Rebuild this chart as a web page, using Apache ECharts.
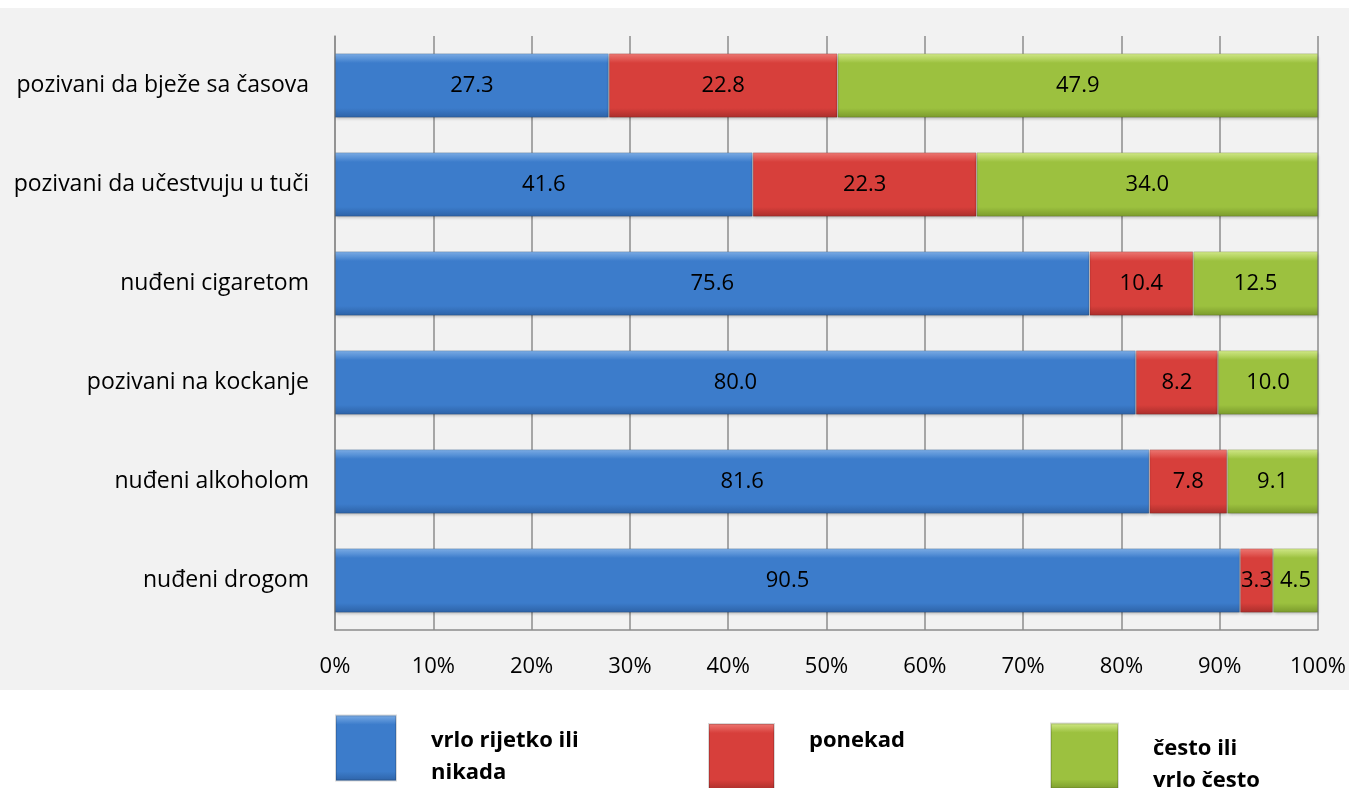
<!DOCTYPE html>
<html>
<head>
<meta charset="utf-8">
<script src="https://cdn.jsdelivr.net/npm/echarts@6/dist/echarts.min.js"></script>
<style>
  html, body { margin: 0; padding: 0; background: #fff; }
  #main { width: 1349px; height: 788px; }
</style>
</head>
<body>
<div id="main"></div>
<script>
// kategorije, odozgo prema dolje
const categories = [
  'pozivani da bježe sa časova',
  'pozivani da učestvuju u tuči',
  'nuđeni cigaretom',
  'pozivani na kockanje',
  'nuđeni alkoholom',
  'nuđeni drogom'
];
const seriesNames = ['vrlo rijetko ili\nnikada', 'ponekad', 'često ili\nvrlo često'];
const rarely = [27.3, 41.6, 75.6, 80.0, 81.6, 90.5];
const sometimes = [22.8, 22.3, 10.4, 8.2, 7.8, 3.3];
const often = [47.9, 34.0, 12.5, 10.0, 9.1, 4.5];
const xTicks = ['0%', '10%', '20%', '30%', '40%', '50%', '60%', '70%', '80%', '90%', '100%'];

const FONT = '"Open Sans", Lato, sans-serif';

// 100% stacked: udio svake vrijednosti u zbiru reda
const totals = rarely.map((v, i) => v + sometimes[i] + often[i]);
function toShare(arr) {
  return arr.map((v, i) => ({ value: v / totals[i] * 100, raw: v }));
}

function grad(top, mid, bottom) {
  return new echarts.graphic.LinearGradient(0, 0, 0, 1, [
    { offset: 0, color: top },
    { offset: 0.15, color: mid },
    { offset: 0.85, color: mid },
    { offset: 1, color: bottom }
  ]);
}

const colors = [
  grad('#7fb0e8', '#3c7ccb', '#2d62a6'),
  grad('#f07b76', '#d73f3b', '#aa2e2b'),
  grad('#d5ec8c', '#9cc13f', '#7a9a2c')
];

function makeSeries(name, arr, idx) {
  return {
    name: name,
    type: 'bar',
    stack: 'total',
    barWidth: '65%',
    data: toShare(arr),
    itemStyle: {
      color: colors[idx],
      borderColor: 'rgba(0,0,0,0.15)',
      borderWidth: 1,
      shadowColor: 'rgba(0,0,0,0.25)',
      shadowBlur: 3,
      shadowOffsetY: 2
    },
    label: {
      show: true,
      position: 'inside',
      color: '#000',
      fontFamily: FONT,
      fontSize: 22,
      formatter: p => p.data.raw.toFixed(1)
    },
    emphasis: { disabled: true }
  };
}

const chart = echarts.init(document.getElementById('main'), null, { renderer: 'canvas' });

// legenda: tri zasebna bloka
const legendLefts = [335, 708, 1050];
const legendTops = [711, 723, 719];
const legendIconW = [60, 65, 67];
// razmak (prazan red) iznad ili ispod teksta, da tekst sjedne kao u originalu
const legendFmt = [
  n => '{s| }\n' + n.split('\n').map(t => '{b|' + t + '}').join('\n'),
  n => '{b|' + n + '}\n{t| }',
  n => '{s| }\n' + n.split('\n').map(t => '{b|' + t + '}').join('\n')
];

const option = {
  animation: false,
  backgroundColor: '#ffffff',
  graphic: [{
    type: 'rect',
    z: -10,
    silent: true,
    shape: { x: 0, y: 8, width: 1349, height: 682 },
    style: { fill: '#f2f2f2' }
  }],
  legend: seriesNames.map((n, i) => ({
    data: [{ name: n, itemStyle: { color: colors[i] } }],
    left: legendLefts[i],
    top: legendTops[i],
    padding: 0,
    icon: 'rect',
    itemWidth: legendIconW[i],
    itemHeight: 65,
    itemGap: 0,
    selectedMode: false,
    formatter: legendFmt[i],
    textStyle: {
      padding: [0, 0, 0, 30],
      rich: {
        b: {
          fontFamily: FONT,
          fontSize: 22,
          fontWeight: 'bold',
          color: '#000',
          lineHeight: 32
        },
        s: { fontSize: 10, lineHeight: 17 },
        t: { fontSize: 10, lineHeight: 31 }
      }
    }
  })),
  grid: {
    left: 335,
    right: 31,
    top: 36,
    bottom: 158,
    containLabel: false
  },
  xAxis: {
    type: 'value',
    min: 0,
    max: 100,
    interval: 10,
    axisLine: { show: true, lineStyle: { color: '#8c8c8c', width: 1.5 } },
    axisTick: { show: false },
    splitLine: { show: true, lineStyle: { color: '#8c8c8c', width: 1.5 } },
    axisLabel: {
      color: '#000',
      fontFamily: FONT,
      fontSize: 22,
      margin: 26,
      formatter: v => xTicks[Math.round(v / 10)]
    }
  },
  yAxis: {
    type: 'category',
    inverse: true,
    data: categories,
    axisLine: { show: true, lineStyle: { color: '#8c8c8c', width: 1.5 } },
    axisTick: { show: false },
    axisLabel: {
      color: '#000',
      fontFamily: FONT,
      fontSize: 23,
      margin: 26
    }
  },
  series: [
    makeSeries(seriesNames[0], rarely, 0),
    makeSeries(seriesNames[1], sometimes, 1),
    makeSeries(seriesNames[2], often, 2)
  ]
};

chart.setOption(option);
</script>
</body>
</html>
